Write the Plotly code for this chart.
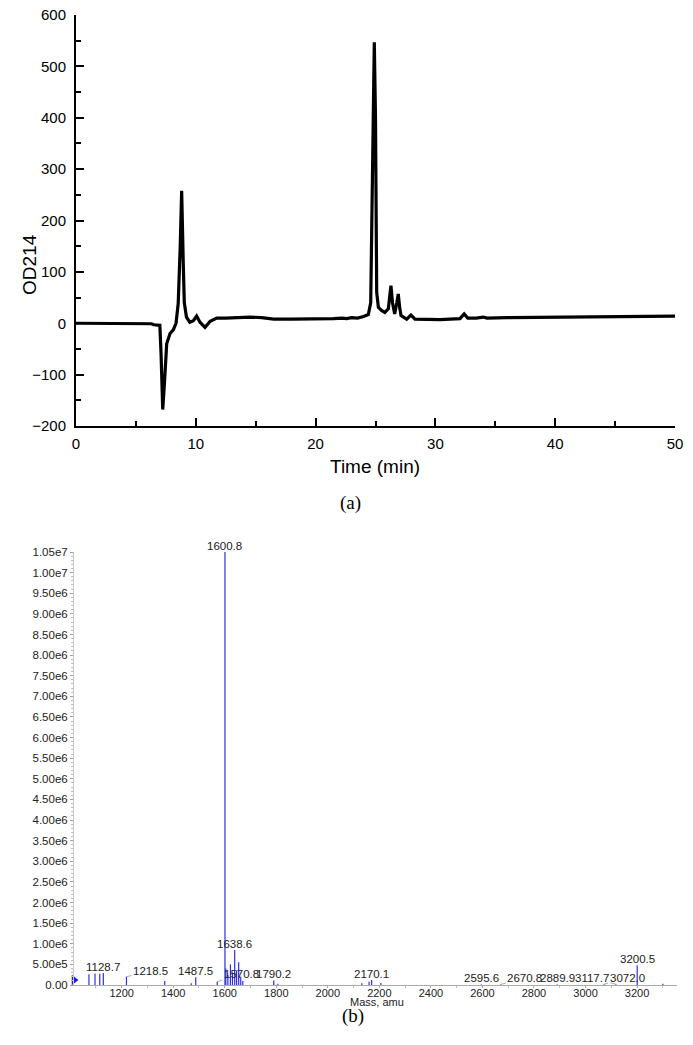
import plotly.graph_objects as go

# ---------------- (a) chromatogram data ----------------
time_min = [0, 2, 4, 6.0, 6.3, 6.5, 6.8, 7.0, 7.1, 7.24, 7.4, 7.57, 7.85, 8.12, 8.35, 8.53,
            8.7, 8.82, 8.95, 9.04, 9.22, 9.5, 9.8, 10.07, 10.35, 10.77, 11.2, 11.75, 12.5,
            13.5, 14.5, 15.5, 16.5, 18, 20, 21.5, 22.2, 22.6, 23, 23.5, 24.0, 24.4, 24.6,
            24.8, 24.9, 25.0, 25.1, 25.24, 25.5, 25.78, 26.07, 26.2, 26.29, 26.42, 26.6,
            26.78, 26.9, 27.02, 27.13, 27.6, 27.96, 28.3, 29.3, 30.4, 32.05, 32.4, 32.7,
            33.4, 34.0, 34.3, 36, 40, 45, 50]
od214 = [0, 0, 0, 0, -1, -3, -3, -4, -60, -168, -110, -40, -20, -13, 0, 38,
         150, 258, 120, 40, 12, 2, 5, 14, 2, -8, 4, 10, 10,
         11, 12, 11, 8, 8, 8, 9, 10, 9, 11, 10, 13, 17, 40,
         400, 547, 400, 60, 31, 25, 21, 28, 55, 73, 40, 18,
         40, 57, 30, 15, 8, 16, 8, 7, 7, 9, 18, 10,
         10, 12, 10, 11, 12, 13, 14]
od_ticks = [-200, -100, 0, 100, 200, 300, 400, 500, 600]

# ---------------- (b) mass spectrum data ----------------
mass = [1073.0, 1096.5, 1115.0, 1128.7, 1218.5, 1367.0, 1470.0, 1487.5, 1570.8,
        1600.8, 1604.0, 1612.0, 1622.0, 1630.0, 1638.6, 1646.0, 1654.0, 1662.0, 1670.0,
        1790.2, 1806.0, 2132.0, 2160.0, 2170.1, 2206.0, 2595.6, 2670.8, 2889.9,
        3072.0, 3117.7, 3200.5, 3300.0]
intensity = [2.6e5, 2.8e5, 2.7e5, 2.9e5, 2.0e5, 1.0e5, 0.4e5, 1.9e5, 0.8e5,
             1.05e7, 4.0e5, 2.5e5, 5.0e5, 3.0e5, 8.5e5, 3.5e5, 5.5e5, 2.0e5, 1.0e5,
             1.1e5, 0.3e5, 0.4e5, 0.8e5, 1.2e5, 0.5e5, 0.15e5, 0.15e5, 0.15e5,
             0.2e5, 0.2e5, 4.8e5, 0.3e5]
peak_labels = ["1128.7", "1218.5", "1487.5", "1570.8", "1600.8", "1638.6", "1790.2",
               "2170.1", "2595.6", "2670.8", "2889.9", "3117.7", "3072.0", "3200.5"]
ms_y_ticktext = ["1.05e7", "1.00e7", "9.50e6", "9.00e6", "8.50e6", "8.00e6", "7.50e6",
                 "7.00e6", "6.50e6", "6.00e6", "5.50e6", "5.00e6", "4.50e6", "4.00e6",
                 "3.50e6", "3.00e6", "2.50e6", "2.00e6", "1.50e6", "1.00e6", "5.00e5", "0.00"]
ms_x_ticks = [1200, 1400, 1600, 1800, 2000, 2200, 2400, 2600, 2800, 3000, 3200]

W, H = 693, 1045
def px_x(p): return p / W
def px_y(p): return 1 - p / H

SANS = "Liberation Sans, Arial, sans-serif"
SERIF = "Liberation Serif, Times New Roman, serif"
BLUE = "rgb(45,45,232)"

fig = go.Figure()

fig.add_trace(go.Scatter(x=time_min, y=od214, mode="lines",
                         line=dict(color="black", width=3.2),
                         xaxis="x", yaxis="y", showlegend=False, hoverinfo="skip"))

# stems for the mass spectrum
sx, sy = [], []
for m, v in zip(mass, intensity):
    sx += [m, m, None]
    sy += [0, v, None]
fig.add_trace(go.Scatter(x=sx, y=sy, mode="lines", line=dict(color=BLUE, width=1.2),
                         xaxis="x2", yaxis="y2", showlegend=False, hoverinfo="skip"))

ms_range = [1015, 3355]
fig.add_trace(go.Scatter(x=[ms_range[0]], y=[1.2e5], mode="markers",
                         marker=dict(symbol="triangle-right", size=9, color="rgb(30,30,230)"),
                         cliponaxis=False, xaxis="x2", yaxis="y2",
                         showlegend=False, hoverinfo="skip"))

# leader-line offsets (pixels) for some labels
leader = {"1218.5": (24, -6), "1570.8": (24, -8), "2670.8": (24, -6),
          "3117.7": (-24, -6), "3072.0": (23, -6)}
annotations = []
for lab in peak_labels:
    m = float(lab)
    i = min(range(len(mass)), key=lambda k: abs(mass[k] - m))
    v = intensity[i]
    if lab in leader:
        ax, ay = leader[lab]
        annotations.append(dict(x=mass[i], y=v, xref="x2", yref="y2", text=lab,
                                showarrow=True, arrowhead=0, arrowwidth=0.8,
                                arrowcolor="rgb(150,150,150)", ax=ax, ay=ay, standoff=0,
                                font=dict(family=SANS, size=11.5, color="#222")))
    else:
        annotations.append(dict(x=mass[i], y=v, xref="x2", yref="y2", text=lab,
                                showarrow=False, yanchor="bottom", yshift=-2,
                                font=dict(family=SANS, size=11.5, color="#222")))

annotations += [
    dict(x=px_x(375), y=px_y(467), xref="paper", yref="paper", text="Time (min)",
         showarrow=False, font=dict(family=SANS, size=19, color="black")),
    dict(x=px_x(17), y=px_y(232), xref="paper", yref="paper", text="OD214", textangle=-90,
         showarrow=False, font=dict(family=SANS, size=19, color="black")),
    dict(x=px_x(351), y=px_y(503), xref="paper", yref="paper", text="(a)",
         showarrow=False, font=dict(family=SERIF, size=19, color="black")),
    dict(x=px_x(377), y=px_y(1010), xref="paper", yref="paper", text="Mass, amu",
         showarrow=False, font=dict(family=SANS, size=11, color="#222")),
    dict(x=px_x(353), y=px_y(1029), xref="paper", yref="paper", text="(b)",
         showarrow=False, font=dict(family=SERIF, size=19, color="black")),
]

fig.update_layout(
    width=W, height=H, margin=dict(l=0, r=0, t=0, b=0, pad=0, autoexpand=False),
    paper_bgcolor="white", plot_bgcolor="white",
    xaxis=dict(domain=[px_x(76), px_x(675)], range=[0, 50], anchor="y", automargin=False,
               showline=True, linecolor="black", linewidth=2, mirror=False,
               ticks="inside", ticklen=8, tickwidth=1.6, tickcolor="black",
               dtick=10, tick0=0, showgrid=False, zeroline=False,
               minor=dict(ticks="inside", ticklen=5, dtick=5, tickwidth=1.6, tickcolor="black"),
               tickfont=dict(family=SANS, size=15, color="black"), ticklabelstandoff=3),
    yaxis=dict(domain=[px_y(426), px_y(15)], range=[-200, 600], anchor="x", automargin=False,
               showline=True, linecolor="black", linewidth=2,
               ticks="inside", ticklen=8, tickwidth=1.6, tickcolor="black",
               tickvals=od_ticks, showgrid=False, zeroline=False,
               minor=dict(ticks="inside", ticklen=5, dtick=50, tick0=0, tickwidth=1.6, tickcolor="black"),
               tickfont=dict(family=SANS, size=15, color="black"), ticklabelstandoff=5),
    xaxis2=dict(domain=[px_x(74), px_x(677)], range=ms_range, anchor="y2", automargin=False,
                showline=True, linecolor="rgb(170,170,170)", linewidth=1,
                ticks="outside", ticklen=2, tickcolor="rgb(170,170,170)",
                tickvals=ms_x_ticks, showgrid=False, zeroline=False,
                minor=dict(ticks="outside", ticklen=2, dtick=100, tick0=1000,
                           tickcolor="rgb(190,190,190)"),
                tickfont=dict(family=SANS, size=11, color="#222"), ticklabelstandoff=-4),
    yaxis2=dict(domain=[px_y(985), px_y(552)], range=[0, 1.05e7], anchor="x2", automargin=False,
                showline=True, linecolor="rgb(200,200,200)", linewidth=1,
                ticks="outside", ticklen=3, tickcolor="rgb(160,160,160)",
                tickvals=[1.05e7 - 5e5 * k for k in range(len(ms_y_ticktext))],
                ticktext=ms_y_ticktext, showgrid=False, zeroline=False,
                minor=dict(ticks="outside", ticklen=2, dtick=1e5, tick0=0,
                           tickcolor="rgb(190,190,190)"),
                tickfont=dict(family=SANS, size=11.5, color="#222")),
    annotations=annotations,
)

# remove the default 8px page margin so the figure fills the window exactly
fig.write_html("out.html", config={"displayModeBar": False},
               post_script="document.body.style.margin='0';document.body.style.overflow='hidden';")
